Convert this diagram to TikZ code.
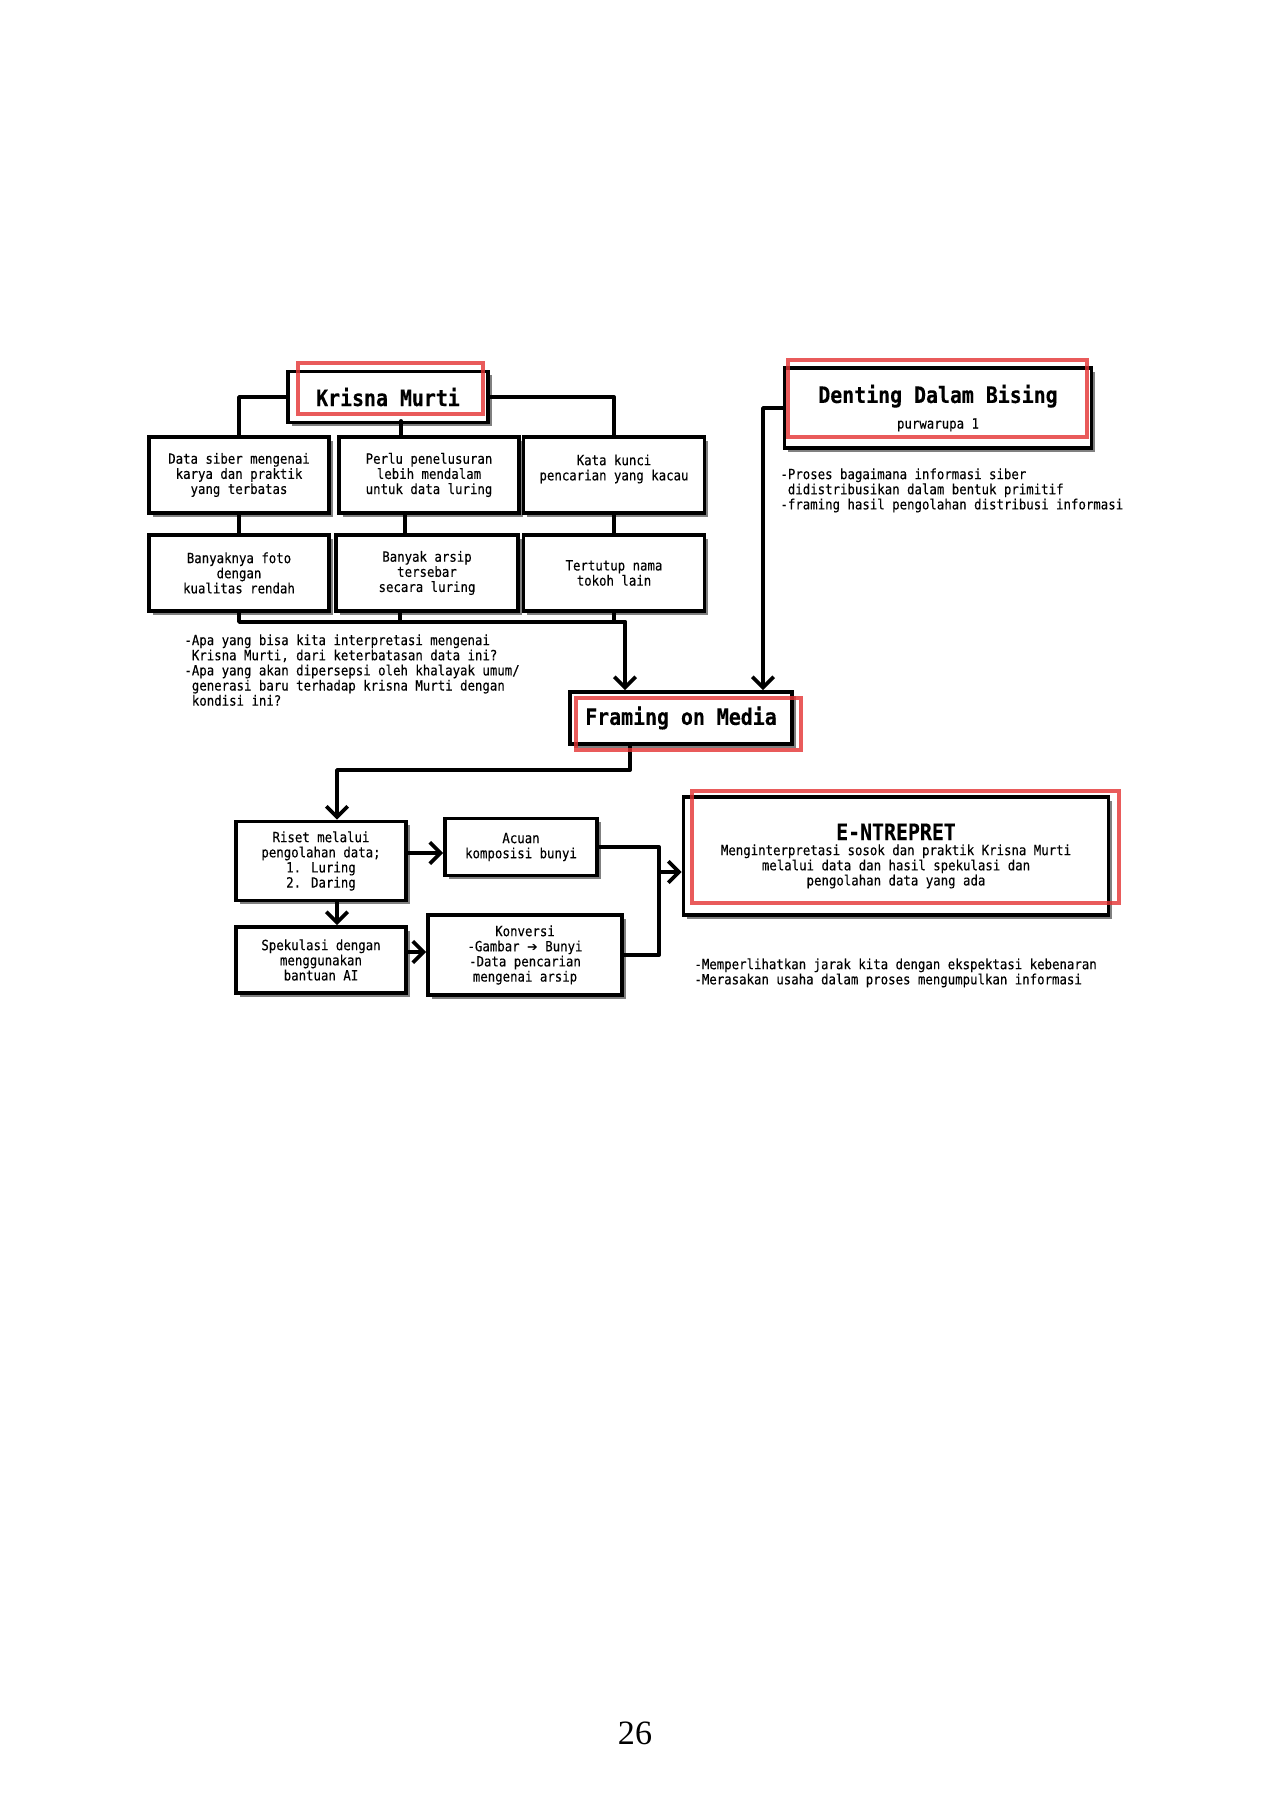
\documentclass[tikz,border=0pt]{standalone}
\usepackage{fontspec}
\setmainfont{Liberation Serif}
\newfontfamily\monof{DejaVu Sans Mono}[FakeStretch=0.88,FakeBold=0.25]
\newfontfamily\dejavu{DejaVu Sans}
\usetikzlibrary{arrows.meta,shadows}
\definecolor{hl}{RGB}{228,50,50}
\def\px{0.4693pt}
\begin{document}
\begin{tikzpicture}[x=0.4693pt,y=-0.4693pt,
  box/.style={draw=black,line width=1.7pt,fill=white,
    general shadow={fill=black!50,shadow xshift=1.8pt,shadow yshift=-1.8pt},
    align=center,inner sep=0pt,font=\monof\fontsize{6.6}{7.1}\selectfont},
  tbox/.style={box,font=\monof\bfseries\fontsize{10.6}{12}\selectfont},
  note/.style={anchor=north west,align=left,inner sep=0pt,font=\monof\fontsize{6.6}{7.1}\selectfont},
  conn/.style={line width=1.8pt,line cap=round,line join=round},
  arr/.style={conn,-{Straight Barb[length=5pt,width=10pt]}},
  redbox/.style={draw=hl,line width=1.8pt,opacity=0.8}]
\path[use as bounding box,fill=white] (0,0) rectangle (1268,1800);

% top-left tree
\node[tbox,minimum width={200*\px},minimum height={51*\px}] (km) at (388,397) {Krisna Murti};
\node[box,minimum width={180*\px},minimum height={76*\px}] (b1) at (239,475) {Data siber mengenai\\karya dan praktik\\yang terbatas};
\node[box,minimum width={180*\px},minimum height={76*\px}] (b2) at (429,475) {Perlu penelusuran\\lebih mendalam\\untuk data luring};
\node[box,minimum width={181*\px},minimum height={76*\px}] (b3) at (614,475) {Kata kunci\\pencarian yang kacau\\\mbox{}};
\node[box,minimum width={180*\px},minimum height={76*\px}] (b4) at (239,573) {Banyaknya foto\\dengan\\kualitas rendah};
\node[box,minimum width={182*\px},minimum height={76*\px}] (b5) at (427,573) {Banyak arsip\\tersebar\\secara luring};
\node[box,minimum width={181*\px},minimum height={76*\px}] (b6) at (614,573) {Tertutup nama\\tokoh lain};

\node[tbox,minimum width={307*\px},minimum height={80*\px}] (dd) at (938,408) {\raisebox{-2pt}{Denting Dalam Bising}\\[2pt]{\mdseries\fontsize{6.6}{7.1}\selectfont purwarupa 1}};
\node[tbox,minimum width={222*\px},minimum height={52*\px}] (fm) at (681,718) {Framing on Media};

\node[box,minimum width={170*\px},minimum height={79*\px}] (ri) at (321,861) {Riset melalui\\pengolahan data;\\1. Luring\\2. Daring};
\node[box,minimum width={152*\px},minimum height={57*\px}] (ac) at (521,847) {Acuan\\komposisi bunyi};
\node[box,minimum width={170*\px},minimum height={66*\px}] (sp) at (321,960) {Spekulasi dengan\\menggunakan\\bantuan AI};
\node[box,minimum width={194*\px},minimum height={80*\px}] (ko) at (525,955) {Konversi\\-Gambar {\dejavu\fontsize{6}{7.1}\selectfont ➔} Bunyi\\-Data pencarian\\mengenai arsip};
\node[box,minimum width={425*\px},minimum height={118*\px}] (en) at (896,856) {{\bfseries\fontsize{10.6}{11}\selectfont E-NTREPRET}\\Menginterpretasi sosok dan praktik Krisna Murti\\melalui data dan hasil spekulasi dan\\pengolahan data yang ada};

% notes
\node[note] (n1) at (780,468) {-Proses bagaimana informasi siber\\\phantom{-}didistribusikan dalam bentuk primitif\\-framing hasil pengolahan distribusi informasi};
\node[note] (n2) at (184,634) {-Apa yang bisa kita interpretasi mengenai\\\phantom{-}Krisna Murti, dari keterbatasan data ini?\\-Apa yang akan dipersepsi oleh khalayak umum/\\\phantom{-}generasi baru terhadap krisna Murti dengan\\\phantom{-}kondisi ini?};
\node[note] (n3) at (694,958) {-Memperlihatkan jarak kita dengan ekspektasi kebenaran\\-Merasakan usaha dalam proses mengumpulkan informasi};

% helper coordinates
\coordinate (kb) at (401,421);
\coordinate (c2) at (405,0);
\coordinate (c5) at (400,0);
\coordinate (j) at (625,622);
\coordinate (dx) at (763,0);
\coordinate (fr) at (630,770);
\coordinate (rx) at (337,0);
\coordinate (ry) at (0,853);
\coordinate (ky) at (0,952);
\coordinate (vx) at (659,0);
\coordinate (vm) at (0,872);

% connectors
\draw[conn] (km.west) -| (b1.north);
\draw[conn] (kb) -- (kb |- b2.north);
\draw[conn] (km.east) -| (b3.north);
\draw[conn] (b1.south) -- (b4.north);
\draw[conn] (b2.south -| c2) -- (b5.north -| c2);
\draw[conn] (b3.south) -- (b6.north);
\draw[conn] (b4.south) |- (j);
\draw[conn] (b5.south -| c5) -- (c5 |- j);
\draw[conn] (b6.south) -- (b6.south |- j);
\draw[arr] (j) -- (j |- fm.north);
\draw[arr] (dd.west) -| (dx |- fm.north);
\draw[arr] (fm.south -| fr) -- (fr) -| (rx |- ri.north);
\draw[arr] (ri.east |- ry) -- (ac.west |- ry);
\draw[arr] (ri.south -| rx) -- (sp.north -| rx);
\draw[arr] (sp.east |- ky) -- (ko.west |- ky);
\draw[conn] (ac.east) -| (vx |- ko.east) -- (ko.east);
\draw[arr] (vx |- vm) -- (en.west |- vm);

% red highlight frames
\draw[redbox] (298,363) rectangle (483,414);
\draw[redbox] (788,360) rectangle (1087,437);
\draw[redbox] (576,698) rectangle (801,750);
\draw[redbox] (692,791) rectangle (1119,903);

\node[font=\fontsize{16}{19}\selectfont,inner sep=0pt] (pg) at (635,1733) {26};
\end{tikzpicture}
\end{document}
